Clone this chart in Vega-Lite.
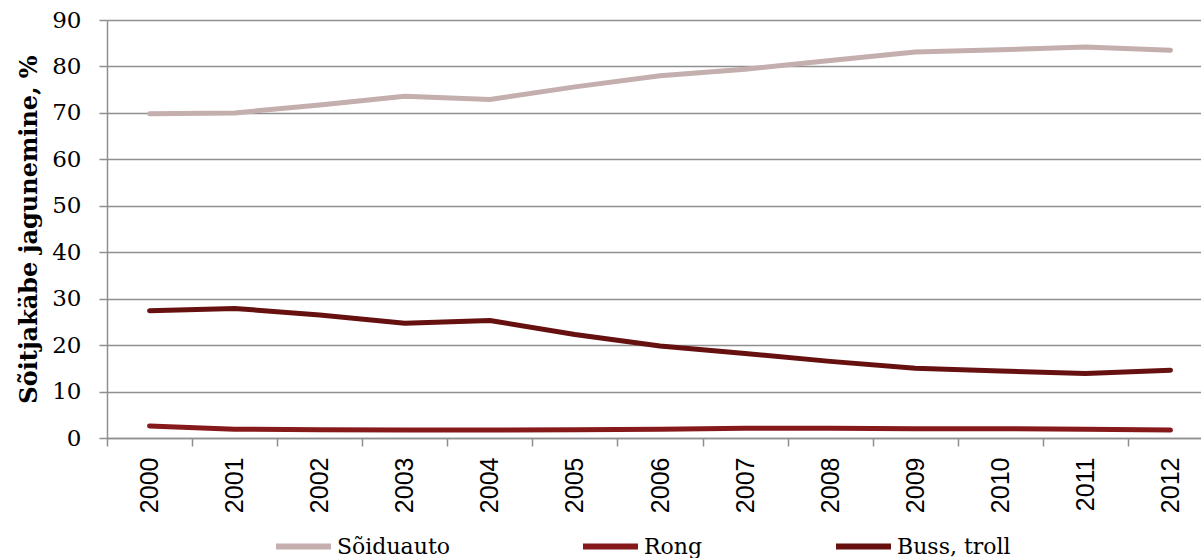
{
  "$schema": "https://vega.github.io/schema/vega-lite/v6.json",
  "width": 1094,
  "height": 418,
  "autosize": {"type": "none"},
  "padding": {"left": 107, "top": 20, "right": 0, "bottom": 120},
  "background": "white",
  "config": {"view": {"stroke": null}},
  "data": {
    "values": [
      {"year": "2000", "mode": "Sõiduauto", "share": 69.8},
      {"year": "2001", "mode": "Sõiduauto", "share": 70.0},
      {"year": "2002", "mode": "Sõiduauto", "share": 71.7},
      {"year": "2003", "mode": "Sõiduauto", "share": 73.6},
      {"year": "2004", "mode": "Sõiduauto", "share": 72.9},
      {"year": "2005", "mode": "Sõiduauto", "share": 75.6},
      {"year": "2006", "mode": "Sõiduauto", "share": 78.0},
      {"year": "2007", "mode": "Sõiduauto", "share": 79.4},
      {"year": "2008", "mode": "Sõiduauto", "share": 81.3},
      {"year": "2009", "mode": "Sõiduauto", "share": 83.1},
      {"year": "2010", "mode": "Sõiduauto", "share": 83.6},
      {"year": "2011", "mode": "Sõiduauto", "share": 84.2},
      {"year": "2012", "mode": "Sõiduauto", "share": 83.5},
      {"year": "2000", "mode": "Rong", "share": 2.6},
      {"year": "2001", "mode": "Rong", "share": 1.9},
      {"year": "2002", "mode": "Rong", "share": 1.8},
      {"year": "2003", "mode": "Rong", "share": 1.7},
      {"year": "2004", "mode": "Rong", "share": 1.7},
      {"year": "2005", "mode": "Rong", "share": 1.8},
      {"year": "2006", "mode": "Rong", "share": 1.9},
      {"year": "2007", "mode": "Rong", "share": 2.1},
      {"year": "2008", "mode": "Rong", "share": 2.1},
      {"year": "2009", "mode": "Rong", "share": 2.0},
      {"year": "2010", "mode": "Rong", "share": 2.0},
      {"year": "2011", "mode": "Rong", "share": 1.9},
      {"year": "2012", "mode": "Rong", "share": 1.7},
      {"year": "2000", "mode": "Buss, troll", "share": 27.4},
      {"year": "2001", "mode": "Buss, troll", "share": 27.9},
      {"year": "2002", "mode": "Buss, troll", "share": 26.5},
      {"year": "2003", "mode": "Buss, troll", "share": 24.7},
      {"year": "2004", "mode": "Buss, troll", "share": 25.3},
      {"year": "2005", "mode": "Buss, troll", "share": 22.3},
      {"year": "2006", "mode": "Buss, troll", "share": 19.8},
      {"year": "2007", "mode": "Buss, troll", "share": 18.2},
      {"year": "2008", "mode": "Buss, troll", "share": 16.5},
      {"year": "2009", "mode": "Buss, troll", "share": 15.0},
      {"year": "2010", "mode": "Buss, troll", "share": 14.4},
      {"year": "2011", "mode": "Buss, troll", "share": 13.9},
      {"year": "2012", "mode": "Buss, troll", "share": 14.6}
    ]
  },
  "mark": {"type": "line", "strokeWidth": 5, "strokeCap": "round", "strokeJoin": "round"},
  "encoding": {
    "x": {
      "field": "year",
      "type": "ordinal",
      "scale": {"type": "band", "range": [0, 1106], "paddingInner": 0, "paddingOuter": 0},
      "axis": {
        "title": null,
        "tickBand": "extent",
        "labelAngle": 270,
        "labelFont": "Liberation Sans",
        "labelFontSize": 25,
        "labelColor": "black",
        "labelPadding": 11,
        "domainColor": "#8f8f8f",
        "domainWidth": 1.5,
        "tickColor": "#8f8f8f",
        "tickWidth": 1.5,
        "tickSize": 8,
        "grid": false
      }
    },
    "y": {
      "field": "share",
      "type": "quantitative",
      "scale": {"domain": [0, 90], "nice": false},
      "axis": {
        "title": "Sõitjakäbe jagunemine, %",
        "titleFont": "DejaVu Serif",
        "titleFontSize": 24,
        "titleFontWeight": "bold",
        "titleColor": "black",
        "titlePadding": 10,
        "values": [0, 10, 20, 30, 40, 50, 60, 70, 80, 90],
        "labelFont": "DejaVu Serif",
        "labelFontSize": 23,
        "labelColor": "black",
        "labelPadding": 18,
        "domainColor": "#8f8f8f",
        "domainWidth": 1.5,
        "tickColor": "#8f8f8f",
        "tickWidth": 1.5,
        "tickSize": 8,
        "grid": true,
        "gridColor": "#8f8f8f",
        "gridWidth": 1.5
      }
    },
    "color": {
      "field": "mode",
      "type": "nominal",
      "sort": ["Sõiduauto", "Rong", "Buss, troll"],
      "scale": {
        "domain": ["Sõiduauto", "Rong", "Buss, troll"],
        "range": ["#c4aeae", "#861a1a", "#661010"]
      },
      "legend": {
        "title": null,
        "orient": "none",
        "legendX": 166,
        "legendY": 496,
        "direction": "horizontal",
        "gridAlign": "none",
        "columnPadding": 121,
        "symbolType": "stroke",
        "symbolSize": 3025,
        "symbolStrokeWidth": 6,
        "labelFont": "DejaVu Serif",
        "labelFontSize": 22,
        "labelColor": "black",
        "labelOffset": 3
      }
    }
  }
}
